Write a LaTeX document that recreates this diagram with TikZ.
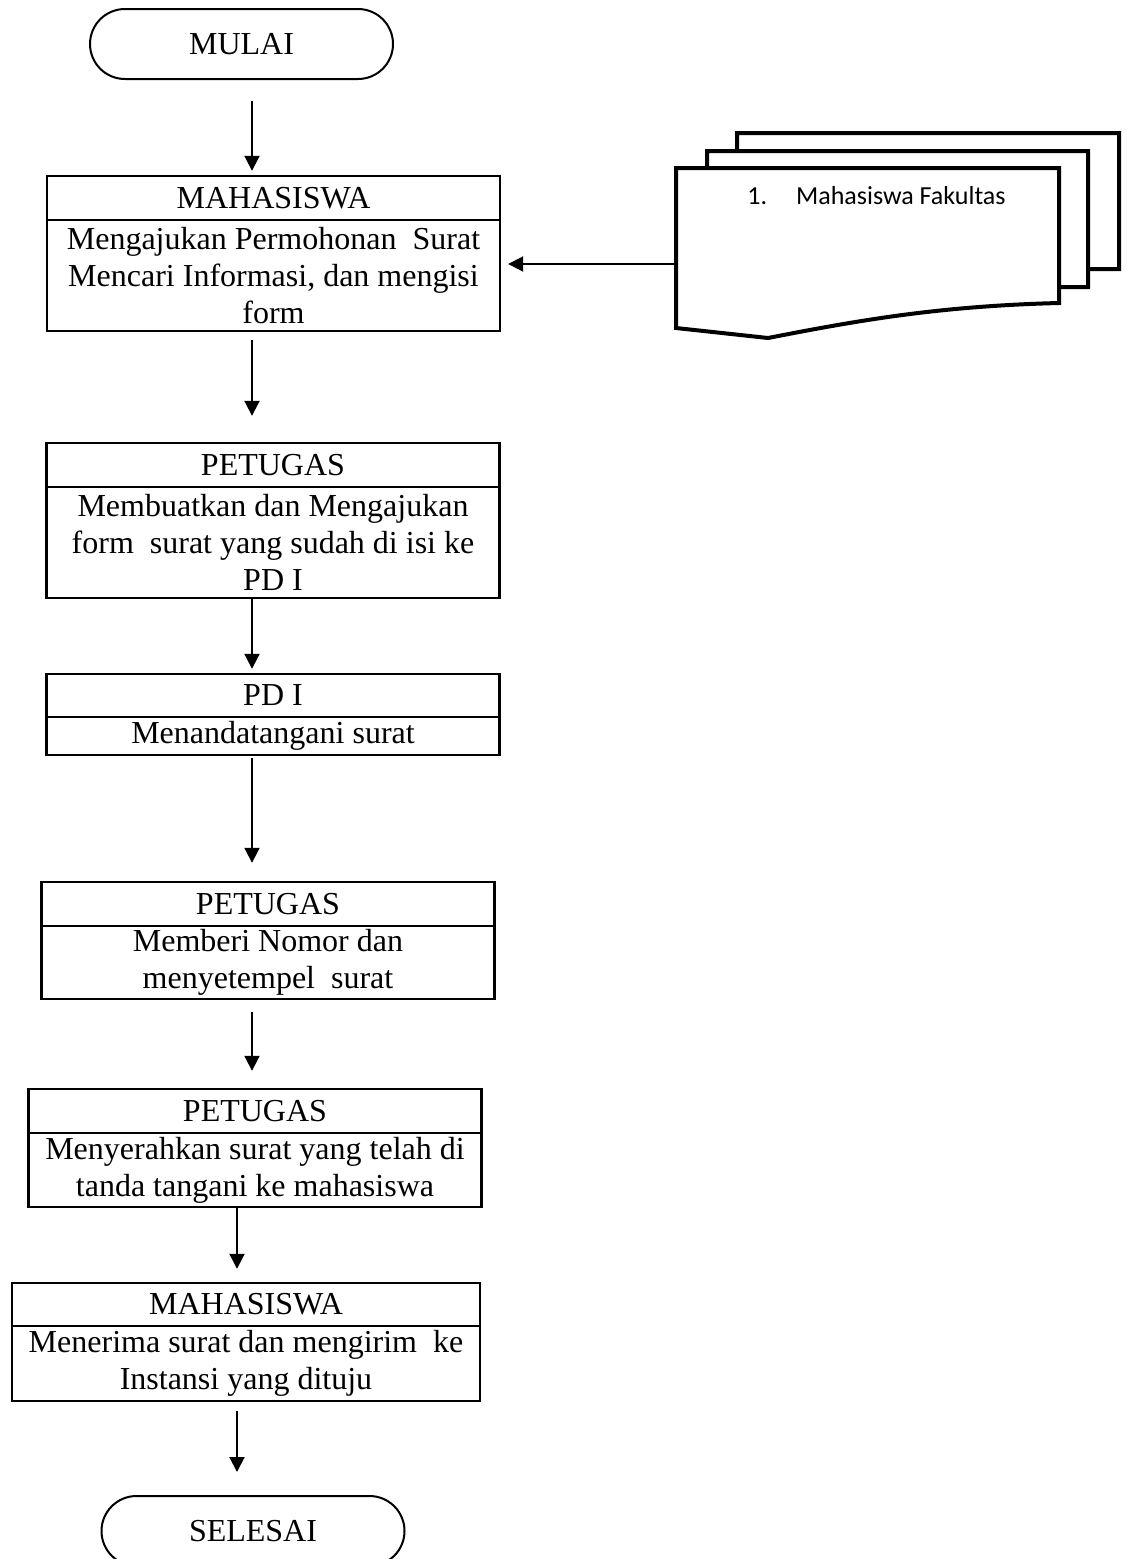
\documentclass[tikz,border=0pt]{standalone}
\usepackage{fontspec}
\setmainfont{Liberation Serif}
\newfontfamily\doclabelfont{Carlito}
\usetikzlibrary{arrows.meta,shapes.misc}

\tikzset{
	terminal/.style={rounded rectangle, draw, line width=1pt, minimum width=151.5pt, minimum height=35pt, inner sep=0pt, font=\fontsize{16}{18.4}\selectfont},
	actor/.style={draw, line width=1.2pt, minimum width=226.5pt, minimum height=22pt, inner sep=0pt, font=\fontsize{16}{18.4}\selectfont},
	task/.style={draw, line width=1.2pt, minimum width=226.5pt, inner sep=0pt, align=center, font=\fontsize{16}{18.4}\selectfont},
	flow/.style={line width=1pt, -{Triangle[length=7.5pt,width=7.5pt]}},
	stack/.style={draw, line width=2pt, fill=white, line join=miter},
	doclabel/.style={inner sep=0pt, font=\doclabelfont\fontsize{13}{15}\selectfont}
}

\begin{document}
\begin{tikzpicture}[x=0.5pt, y=-0.5pt]
			%%%%% START %%%%%
			\useasboundingbox (0, 0) rectangle (1126, 1559);
			\clip (0, 0) rectangle (1126, 1559);
			
			\coordinate (spine) at (252, 0);
			\coordinate (spinelow) at (237, 0);
			
			\node[terminal] (mulai) at (241.5, 44) {MULAI};
			
			\node[actor] (mhs1) at (273.5, 198) {MAHASISWA};
			\node[task, minimum height=55.5pt] (mhs1task) at (273.5, 275.5) {Mengajukan Permohonan\ \ Surat\\Mencari Informasi, dan mengisi\\form};
			
			\node[actor] (ptg1) at (273, 465) {PETUGAS};
			\node[task, minimum height=55.5pt] (ptg1task) at (273, 542.5) {Membuatkan dan Mengajukan\\form\ \ surat yang sudah di isi ke\\PD I};
			
			\node[actor, minimum height=21.5pt] (pd) at (273, 695.5) {PD I};
			\node[task, minimum height=19pt] (pdtask) at (273, 736) {Menandatangani surat};
			
			\node[actor] (ptg2) at (268, 904) {PETUGAS};
			\node[task, minimum height=36.5pt] (ptg2task) at (268, 962.5) {Memberi Nomor dan\\menyetempel\ \ surat};
			
			\node[actor] (ptg3) at (255, 1111) {PETUGAS};
			\node[task, minimum height=37pt] (ptg3task) at (255, 1170) {Menyerahkan surat yang telah di\\tanda tangani ke mahasiswa};
			
			\node[actor, minimum width=234pt, minimum height=21.5pt] (mhs2) at (246, 1304.5) {MAHASISWA};
			\node[task, minimum width=234pt, minimum height=37.5pt] (mhs2task) at (246, 1363.5) {Menerima surat dan mengirim\ \ ke\\Instansi yang dituju};
			
			\node[terminal] (selesai) at (253, 1531) {SELESAI};
			
			% dokumen
			\draw[stack] (737, 133) -- (1119, 133) -- (1119, 269) -- (737, 270) -- cycle;
			\draw[stack] (707, 151) -- (1088, 151) -- (1088, 287) -- (707, 289) -- cycle;
			\draw[stack] (676, 168) -- (1059, 168) -- (1059, 303) .. controls (940, 306) and (860, 320) .. (768, 338) -- (676, 328) -- cycle;
			\node[doclabel, anchor=west] (doctext) at (747, 196) {1.\hspace{14.5pt}Mahasiswa Fakultas};
			\coordinate (docin) at (676, 264);
			
			% alur
			\draw[flow, shorten <=10.5pt, shorten >=2pt] (mulai.south -| spine) -- (mhs1.north -| spine);
			\draw[flow, shorten <=4pt, shorten >=13pt] (mhs1task.south -| spine) -- (ptg1.north -| spine);
			\draw[flow, shorten >=2pt] (ptg1task.south -| spine) -- (pd.north -| spine);
			\draw[flow, shorten <=1pt, shorten >=9pt] (pdtask.south -| spine) -- (ptg2.north -| spine);
			\draw[flow, shorten <=6pt, shorten >=8.5pt] (ptg2task.south -| spine) -- (ptg3.north -| spine);
			\draw[flow, shorten >=6.5pt] (ptg3task.south -| spinelow) -- (mhs2.north -| spinelow);
			\draw[flow, shorten <=4.5pt, shorten >=11.5pt] (mhs2task.south -| spinelow) -- (selesai.north -| spinelow);
			\draw[flow, shorten >=3.5pt] (docin) -- (docin -| mhs1task.east);
			
			%%%%% END %%%%%
\end{tikzpicture}
\end{document}
